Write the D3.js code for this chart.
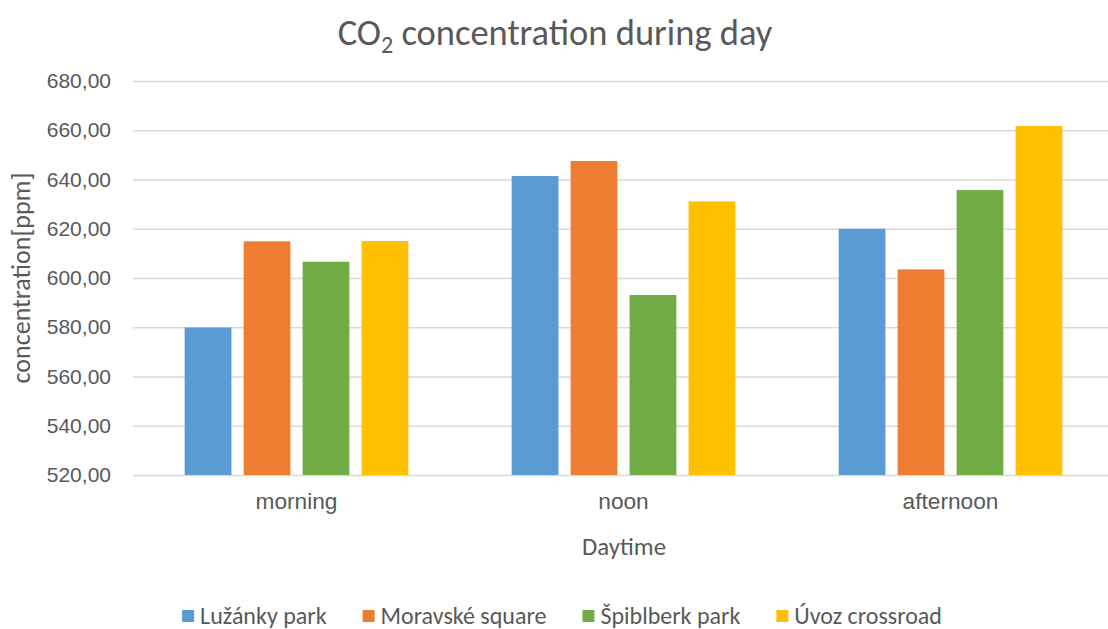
<!DOCTYPE html>
<html>
<head>
<meta charset="utf-8">
<script src="https://cdn.jsdelivr.net/npm/d3@7"></script>
<style>
  body { margin: 0; background: #fff; }
  svg { display: block; font-family: Carlito, Lato, "Open Sans", sans-serif; }
</style>
</head>
<body>
<div id="chart"></div>
<script>
const categories = ["morning", "noon", "afternoon"];
const series = ["Lužánky park", "Moravské square", "Špiblberk park", "Úvoz crossroad"];
const lužánky = [579.9, 641.4, 620.0];
const moravske = [614.9, 647.5, 603.5];
const spilberk = [606.6, 593.1, 635.7];
const uvoz = [615.0, 631.1, 661.7];
const yTicks = [520, 540, 560, 580, 600, 620, 640, 660, 680];
const colors = ["#5B9BD5", "#ED7D31", "#70AD47", "#FFC000"];

const values = [lužánky, moravske, spilberk, uvoz];
const w = 1108, h = 629;
const textColor = "#595959";

const svg = d3.select("#chart").append("svg")
  .attr("width", w)
  .attr("height", h);

const x = d3.scaleBand()
  .domain(categories)
  .range([133, 1114])
  .paddingInner(0.316)
  .paddingOuter(0.158);

const xInner = d3.scaleBand()
  .domain(series)
  .range([0, x.bandwidth()])
  .paddingInner(0.207);

const y = d3.scaleLinear()
  .domain([520, 680])
  .range([475, 81]);

const comma = d3.formatLocale({ decimal: ",", thousands: " ", grouping: [3], currency: ["", ""] });

// gridlines + tick labels
const yAxis = d3.axisLeft(y)
  .tickValues(yTicks)
  .tickFormat(comma.format(".2f"))
  .tickSize(-(1114 - 133))
  .tickPadding(22);

const gy = svg.append("g")
  .attr("transform", "translate(133,0)")
  .call(yAxis);
gy.select(".domain").remove();
gy.selectAll(".tick line").attr("stroke", "#d9d9d9").attr("stroke-width", 1.3);
gy.selectAll(".tick text")
  .attr("fill", textColor)
  .style("font-size", "21px");

// bars
const groups = svg.selectAll("g.cat")
  .data(categories)
  .enter()
  .append("g")
  .attr("class", "cat")
  .attr("transform", d => `translate(${x(d)},0)`);

groups.selectAll("rect")
  .data((c, i) => series.map((s, j) => ({ s, j, v: values[j][i] })))
  .enter()
  .append("rect")
  .attr("x", d => xInner(d.s))
  .attr("y", d => y(d.v))
  .attr("width", xInner.bandwidth())
  .attr("height", d => y(520) - y(d.v))
  .attr("fill", d => colors[d.j]);

// x labels
const xAxis = d3.axisBottom(x).tickSize(0).tickPadding(18);
const gx = svg.append("g")
  .attr("transform", "translate(0,475)")
  .call(xAxis);
gx.select(".domain").remove();
gx.selectAll(".tick text")
  .attr("fill", textColor)
  .style("font-size", "22.7px");

// axis titles
svg.append("text")
  .attr("x", 624)
  .attr("y", 555)
  .attr("text-anchor", "middle")
  .attr("fill", textColor)
  .style("font-size", "24.8px")
  .text("Daytime");

svg.append("text")
  .attr("transform", "translate(30,278) rotate(-90)")
  .attr("text-anchor", "middle")
  .attr("fill", textColor)
  .style("font-size", "26px")
  .text("concentration[ppm]");

// title
const title = svg.append("text")
  .attr("x", 555)
  .attr("y", 45)
  .attr("text-anchor", "middle")
  .attr("fill", textColor)
  .style("font-size", "36.5px");
title.append("tspan").text("CO");
title.append("tspan").attr("dy", 8).style("font-size", "24px").text("2");
title.append("tspan").attr("dy", -8).text(" concentration during day");

// legend
const legend = svg.append("g").attr("transform", "translate(0,616)");
const items = legend.selectAll("g")
  .data(series)
  .enter()
  .append("g");
items.append("rect")
  .attr("y", -6)
  .attr("width", 12)
  .attr("height", 12)
  .attr("fill", (d, i) => colors[i]);
items.append("text")
  .attr("x", 18)
  .attr("y", 8)
  .attr("fill", textColor)
  .style("font-size", "24px")
  .text(d => d);

let pos = 0;
const offsets = [];
items.each(function() {
  offsets.push(pos);
  pos += 18 + d3.select(this).select("text").node().getComputedTextLength() + 36;
});
const total = pos - 36;
const start = 562 - total / 2;
items.attr("transform", (d, i) => `translate(${start + offsets[i]},0)`);
</script>
</body>
</html>
